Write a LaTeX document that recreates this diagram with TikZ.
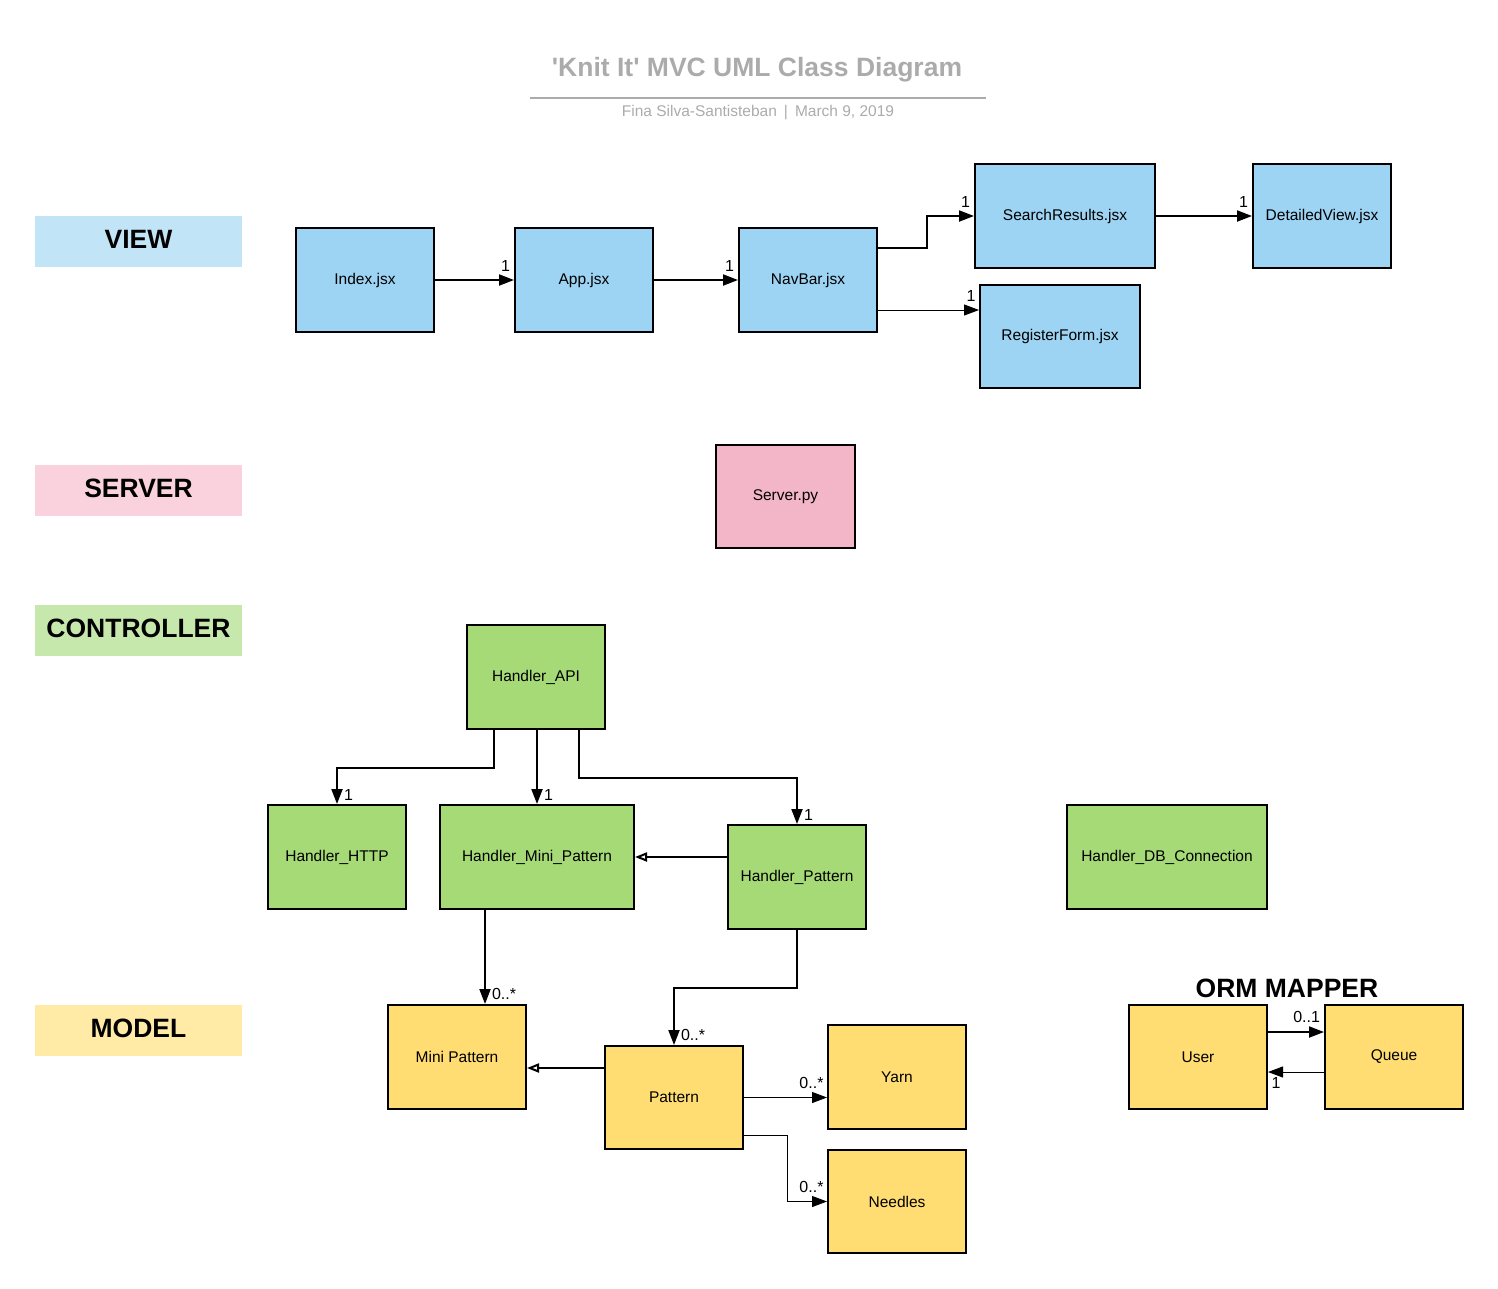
\documentclass[tikz,border=0pt]{standalone}
\usepackage{fontspec}
\setmainfont{Liberation Sans}
\usetikzlibrary{arrows.meta}
\definecolor{viewfill}{HTML}{9DD3F3}
\definecolor{serverfill}{HTML}{F3B5C8}
\definecolor{ctrlfill}{HTML}{A5DA76}
\definecolor{modelfill}{HTML}{FFDD72}
\definecolor{viewlbl}{HTML}{C1E4F7}
\definecolor{serverlbl}{HTML}{FAD2DE}
\definecolor{ctrllbl}{HTML}{C7E8AC}
\definecolor{modellbl}{HTML}{FFEAA6}
\definecolor{titlegrey}{HTML}{ABABAB}
\begin{document}
\begin{tikzpicture}
[x=1pt,y=-1pt,
  classbox/.style={shape=rectangle,draw,line width=2pt,minimum width=138pt,minimum height=104pt,font=\fontsize{15.5}{18}\selectfont},
  legendbox/.style={shape=rectangle,minimum width=207pt,minimum height=51pt,text height=19pt,text depth=5pt,font=\bfseries\fontsize{26.5}{30}\selectfont},
  assoc/.style={-{Triangle[length=15pt,width=11pt]},line width=2pt},
  thinassoc/.style={-{Triangle[length=15pt,width=11pt]},line width=1pt},
  inherit/.style={-{Triangle[open,length=12pt,width=9pt]},line width=2pt},
  mult/.style={font=\fontsize{16}{18}\selectfont,inner sep=3pt},
  hmult/.style={mult,above left,yshift=5pt},
  vmult/.style={mult,above right,xshift=3pt}]
\useasboundingbox (0,0) rectangle (1498,1288);
% title
\node (title) at (757,70) [font=\bfseries\fontsize{26.5}{30}\selectfont,text=titlegrey] {\textquotesingle Knit It\textquotesingle{} MVC UML Class Diagram};
\draw[titlegrey,line width=2pt] (530,98) -- (986,98);
\node (subtitle) at (758,113) [font=\fontsize{15.5}{18}\selectfont,text=titlegrey] {Fina Silva-Santisteban\hspace{7pt}|\hspace{7pt}March 9, 2019};
% layer labels
\node (viewtag) at (138.5,241.5) [legendbox,fill=viewlbl] {VIEW};
\node (servertag) at (138.5,490.5) [legendbox,fill=serverlbl] {SERVER};
\node (ctrltag) at (138.5,630.5) [legendbox,fill=ctrllbl] {CONTROLLER};
\node (modeltag) at (138.5,1030.5) [legendbox,fill=modellbl] {MODEL};
\node (ormtag) at (1287,988) [font=\bfseries\fontsize{26.5}{30}\selectfont] {ORM MAPPER};
% view classes
\node (index) at (365,280) [classbox,fill=viewfill] {Index.jsx};
\node (app) at (584,280) [classbox,fill=viewfill] {App.jsx};
\node (navbar) at (808,280) [classbox,fill=viewfill] {NavBar.jsx};
\node (search) at (1065,216) [classbox,fill=viewfill,minimum width=180pt] {SearchResults.jsx};
\node (detailed) at (1322,216) [classbox,fill=viewfill] {DetailedView.jsx};
\node (register) at (1060,336.5) [classbox,fill=viewfill,minimum width=160pt,minimum height=103pt] {RegisterForm.jsx};
% server
\node (server) at (785.5,496.5) [classbox,fill=serverfill,minimum width=139pt,minimum height=103pt] {Server.py};
% controller classes
\node (api) at (536,677) [classbox,fill=ctrlfill] {Handler\_API};
\node (http) at (337,857) [classbox,fill=ctrlfill] {Handler\_HTTP};
\node (minihandler) at (537,857) [classbox,fill=ctrlfill,minimum width=194pt] {Handler\_Mini\_Pattern};
\node (patternhandler) at (797,877) [classbox,fill=ctrlfill] {Handler\_Pattern};
\node (dbconn) at (1167,857) [classbox,fill=ctrlfill,minimum width=200pt] {Handler\_DB\_Connection};
% model classes
\node (mini) at (457,1057) [classbox,fill=modelfill] {Mini Pattern};
\node (pattern) at (674,1097.5) [classbox,fill=modelfill,minimum height=103pt] {Pattern};
\node (yarn) at (897,1077) [classbox,fill=modelfill] {Yarn};
\node (needles) at (897,1201.5) [classbox,fill=modelfill,minimum height=103pt] {Needles};
\node (user) at (1198,1057) [classbox,fill=modelfill] {User};
\node (queue) at (1394,1057) [classbox,fill=modelfill] {Queue};
% edges or lines
\path
(index) edge[assoc] node[hmult,pos=1] {1} (app)
(app) edge[assoc] node[hmult,pos=1] {1} (navbar)
(search) edge[assoc] node[hmult,pos=1] {1} (detailed);
\draw[assoc] ([yshift=32pt]navbar.east) -- ++(49,0) |- node[hmult,pos=1] {1} (search.west);
\draw[thinassoc] ([yshift=-30pt]navbar.east) -- node[hmult,pos=1] {1} ([yshift=-30pt]navbar.east -| register.west);
\draw[assoc] ([xshift=-42pt]api.south) -- ++(0,38) -| node[vmult,pos=1] {1} (http.north);
\draw[assoc] ([xshift=1pt]api.south) -- node[vmult,pos=1] {1} ([xshift=1pt]api.south |- minihandler.north);
\draw[assoc] ([xshift=43pt]api.south) -- ++(0,48) -| node[vmult,pos=1] {1} (patternhandler.north);
\draw[inherit] ([yshift=20pt]patternhandler.west) -- (minihandler.east);
\draw[assoc] ([xshift=-52pt]minihandler.south) -- node[vmult,pos=1] {0..*} ([xshift=-52pt]minihandler.south |- mini.north);
\draw[assoc] (patternhandler.south) -- ++(0,58) -| node[vmult,pos=1] {0..*} (pattern.north);
\draw[inherit] ([yshift=29.5pt]pattern.west) -- ([yshift=29.5pt]pattern.west -| mini.east);
\draw[thinassoc] (pattern.east) -- node[hmult,pos=1] {0..*} (pattern.east -| yarn.west);
\draw[thinassoc] ([yshift=-37.5pt]pattern.east) -- ++(43,0) |- node[hmult,pos=1] {0..*} (needles.west);
\draw[assoc] ([yshift=25pt]user.east) -- node[hmult,pos=1] {0..1} ([yshift=25pt]user.east -| queue.west);
\draw[thinassoc] ([yshift=-15pt]queue.west) -- node[mult,pos=1,below right,yshift=-2pt] {1} ([yshift=-15pt]queue.west -| user.east);
\end{tikzpicture}
\end{document}
